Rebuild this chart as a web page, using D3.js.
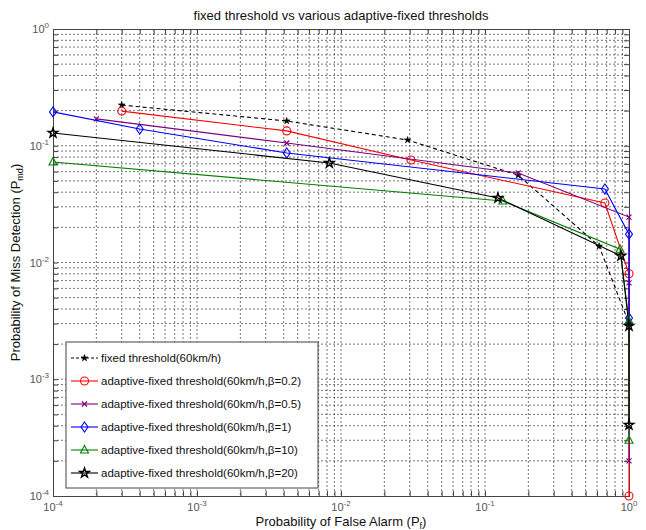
<!DOCTYPE html>
<html>
<head>
<meta charset="utf-8">
<script src="https://cdn.jsdelivr.net/npm/d3@7"></script>
<style>
  body { margin: 0; background: #fff; }
  text { font-family: "Liberation Sans", Arial, sans-serif; }
</style>
</head>
<body>
<svg id="chart" width="646" height="530"></svg>
<script>
// ---- data ----
const titleText = "fixed threshold vs various adaptive-fixed thresholds";
const tickExponents = [-4, -3, -2, -1, 0];

const fixedX = [3e-4, 4.2e-3, 0.029, 0.17, 0.62, 1];
const fixedY = [0.223, 0.163, 0.112, 0.056, 0.0138, 0.003];

const b02X = [3e-4, 4.2e-3, 0.0306, 0.68, 1, 1];
const b02Y = [0.198, 0.134, 0.0755, 0.0323, 0.008, 0.0001];

const b05X = [2e-4, 4.2e-3, 0.17, 1, 1, 1];
const b05Y = [0.17, 0.1056, 0.0584, 0.0245, 0.0067, 0.0002];

const b1X = [1e-4, 4e-4, 4.2e-3, 0.68, 1, 1];
const b1Y = [0.195, 0.139, 0.0867, 0.0426, 0.0175, 0.00335];

const b10X = [1e-4, 0.133, 0.866, 1, 1];
const b10Y = [0.0726, 0.0336, 0.013, 0.00316, 0.0003];

const b20X = [1e-4, 8.3e-3, 0.123, 0.879, 1, 1];
const b20Y = [0.1286, 0.0711, 0.0357, 0.0114, 0.00286, 0.000406];

const seriesNames = [
  "fixed threshold(60km/h)",
  "adaptive-fixed threshold(60km/h,\u03B2=0.2)",
  "adaptive-fixed threshold(60km/h,\u03B2=0.5)",
  "adaptive-fixed threshold(60km/h,\u03B2=1)",
  "adaptive-fixed threshold(60km/h,\u03B2=10)",
  "adaptive-fixed threshold(60km/h,\u03B2=20)"
];

const series = [
  {name: seriesNames[0], xs: fixedX, ys: fixedY, color: "#000", dash: "4,3", marker: "dot"},
  {name: seriesNames[1], xs: b02X, ys: b02Y, color: "#ff0000", dash: null, marker: "circle"},
  {name: seriesNames[2], xs: b05X, ys: b05Y, color: "#800080", dash: null, marker: "x"},
  {name: seriesNames[3], xs: b1X, ys: b1Y, color: "#0000ff", dash: null, marker: "diamond"},
  {name: seriesNames[4], xs: b10X, ys: b10Y, color: "#008000", dash: null, marker: "triangle"},
  {name: seriesNames[5], xs: b20X, ys: b20Y, color: "#000", dash: null, marker: "star"}
];

// ---- layout ----
const svg = d3.select("#chart");
const L = 53, R = 629, T = 29, B = 496;
svg.append("rect").attr("width", 646).attr("height", 530).attr("fill", "#fff");

const x = d3.scaleLog().domain([1e-4, 1]).range([L, R]);
const y = d3.scaleLog().domain([1e-4, 1]).range([B, T]);

const gridVals = [];
for (let e = -4; e < 0; e++) for (let m = 1; m <= 9; m++) gridVals.push(m * Math.pow(10, e));
gridVals.push(1);

const g = svg.append("g");
g.selectAll(".vg").data(gridVals.filter(v => v > 1e-4 && v < 1)).enter().append("line")
  .attr("x1", d => x(d)).attr("x2", d => x(d)).attr("y1", T).attr("y2", B)
  .attr("stroke", "#555").attr("stroke-width", 0.8).attr("stroke-dasharray", "2,2");
g.selectAll(".hg").data(gridVals.filter(v => v > 1e-4 && v < 1)).enter().append("line")
  .attr("y1", d => y(d)).attr("y2", d => y(d)).attr("x1", L).attr("x2", R)
  .attr("stroke", "#555").attr("stroke-width", 0.8).attr("stroke-dasharray", "2,2");

const tickFmt = () => "";
const axB = d3.axisBottom(x).tickValues(gridVals).tickSize(-5).tickFormat(tickFmt);
const axT = d3.axisTop(x).tickValues(gridVals).tickSize(-5).tickFormat(tickFmt);
const axLft = d3.axisLeft(y).tickValues(gridVals).tickSize(-5).tickFormat(tickFmt);
const axRt = d3.axisRight(y).tickValues(gridVals).tickSize(-5).tickFormat(tickFmt);
function styleAxis(sel) {
  sel.selectAll("path").attr("stroke", "#444").attr("stroke-width", 1);
  sel.selectAll("line").attr("stroke", "#444");
}
svg.append("g").attr("transform", `translate(0,${B})`).call(axB).call(styleAxis);
svg.append("g").attr("transform", `translate(0,${T})`).call(axT).call(styleAxis);
svg.append("g").attr("transform", `translate(${L},0)`).call(axLft).call(styleAxis);
svg.append("g").attr("transform", `translate(${R},0)`).call(axRt).call(styleAxis);

const labColor = "#555";
tickExponents.forEach(e => {
  const v = Math.pow(10, e);
  const tx = svg.append("text").attr("x", x(v)).attr("y", B + 15)
    .attr("text-anchor", "middle").attr("font-size", 11).attr("fill", labColor);
  tx.append("tspan").text("10");
  tx.append("tspan").attr("dy", -5).attr("font-size", 8).text(e);
  const ty = svg.append("text").attr("x", L - 4).attr("y", y(v) + 4)
    .attr("text-anchor", "end").attr("font-size", 11).attr("fill", labColor);
  ty.append("tspan").text("10");
  ty.append("tspan").attr("dy", -5).attr("font-size", 8).text(e);
});

svg.append("text").attr("x", (L + R) / 2).attr("y", 20).attr("text-anchor", "middle")
  .attr("font-size", 13).attr("fill", "#111").text(titleText);
const xl = svg.append("text").attr("x", (L + R) / 2).attr("y", 526).attr("text-anchor", "middle")
  .attr("font-size", 13).attr("fill", "#111");
xl.append("tspan").text("Probability of False Alarm (P");
xl.append("tspan").attr("dy", 3).attr("font-size", 9).text("f");
xl.append("tspan").attr("dy", -3).text(")");
const yl = svg.append("text").attr("transform", `translate(20,${(T + B) / 2}) rotate(-90)`)
  .attr("text-anchor", "middle").attr("font-size", 13).attr("fill", "#111");
yl.append("tspan").text("Probability of Miss Detection (P");
yl.append("tspan").attr("dy", 3).attr("font-size", 9).text("md");
yl.append("tspan").attr("dy", -3).text(")");

function drawMarker(sel, type, color) {
  if (type === "dot") {
    sel.append("path").attr("d", d3.symbol(d3.symbolStar, 14)()).attr("fill", color).attr("stroke", color).attr("stroke-width", 0.6);
  } else if (type === "circle") {
    sel.append("circle").attr("r", 4).attr("fill", "none").attr("stroke", color).attr("stroke-width", 1.1);
  } else if (type === "x") {
    sel.append("path").attr("d", "M-2.5,-2.5L2.5,2.5M-2.5,2.5L2.5,-2.5").attr("stroke", color).attr("stroke-width", 1.2);
  } else if (type === "diamond") {
    sel.append("path").attr("d", "M0,-5L3.5,0L0,5L-3.5,0Z").attr("fill", "none").attr("stroke", color).attr("stroke-width", 1.1);
  } else if (type === "triangle") {
    sel.append("path").attr("d", "M0,-4.5L4,3L-4,3Z").attr("fill", "none").attr("stroke", color).attr("stroke-width", 1.1);
  } else if (type === "star") {
    sel.append("path").attr("d", d3.symbol(d3.symbolStar, 28)()).attr("fill", "none").attr("stroke", color).attr("stroke-width", 1.4);
  }
}

const line = d3.line().x(d => x(d[0])).y(d => y(d[1]));
series.forEach(s => {
  const pts = s.xs.map((v, i) => [v, s.ys[i]]);
  const p = svg.append("path").datum(pts).attr("d", line).attr("fill", "none")
    .attr("stroke", s.color).attr("stroke-width", 1.1);
  if (s.dash) p.attr("stroke-dasharray", s.dash);
  pts.forEach(pt => {
    const mg = svg.append("g").attr("transform", `translate(${x(pt[0])},${y(pt[1])})`);
    drawMarker(mg, s.marker, s.color);
  });
});

const lgX = 66, lgY = 342, lgW = 252, lgH = 146;
svg.append("rect").attr("x", lgX).attr("y", lgY).attr("width", lgW).attr("height", lgH)
  .attr("fill", "#fff").attr("stroke", "#444").attr("stroke-width", 1);
series.forEach((s, i) => {
  const cy = lgY + 16 + i * 23;
  const ln = svg.append("line").attr("x1", lgX + 5).attr("x2", lgX + 32).attr("y1", cy).attr("y2", cy)
    .attr("stroke", s.color).attr("stroke-width", 1.1);
  if (s.dash) ln.attr("stroke-dasharray", "3,2");
  const mg = svg.append("g").attr("transform", `translate(${lgX + 18.5},${cy})`);
  drawMarker(mg, s.marker, s.color);
  svg.append("text").attr("x", lgX + 35).attr("y", cy + 4).attr("font-size", 11.5).attr("fill", "#111").text(s.name);
});
</script>
</body>
</html>
